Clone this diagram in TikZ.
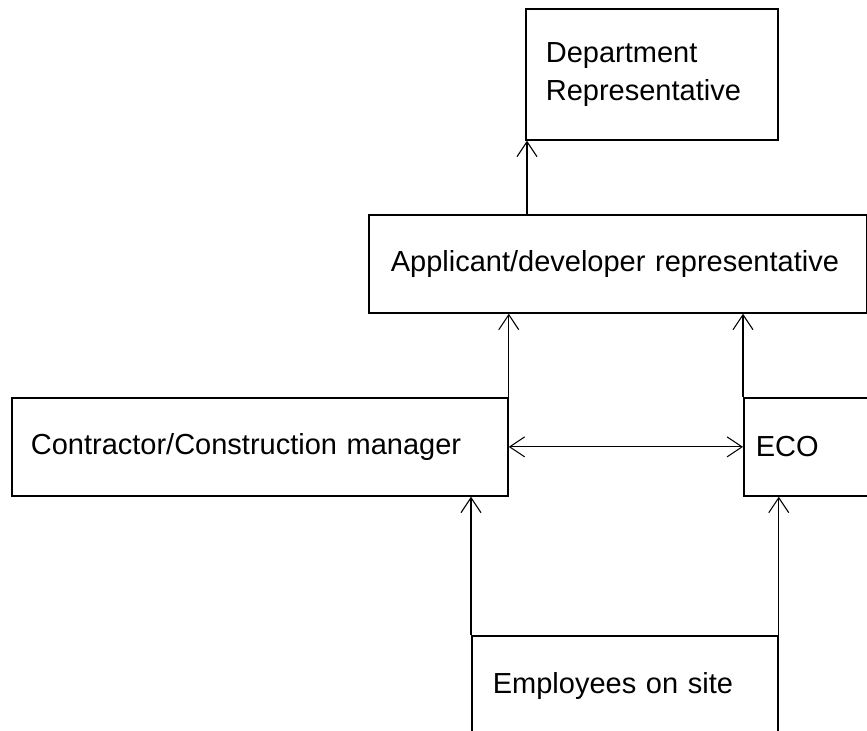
\documentclass[tikz,border=0pt]{standalone}
\usepackage{fontspec}
\setmainfont{Liberation Sans}
\usetikzlibrary{arrows.meta,positioning}

\begin{document}
\begin{tikzpicture}[
    every node/.style={font=\fontsize{16.5}{21.5}\selectfont},
    box/.style={rectangle, draw, line width=1pt, anchor=north west, align=left, minimum height=1.96cm},
    arrow/.style={-{Straight Barb[length=0.3cm, width=0.4cm]}, line width=0.6pt},
    twoway/.style={{Straight Barb[length=0.3cm, width=0.4cm]}-{Straight Barb[length=0.3cm, width=0.4cm]}, line width=0.6pt},
]

% Page frame
\useasboundingbox (0,0) rectangle (17.34,14.62);
\clip (0,0) rectangle (17.34,14.62);

% --- TOP ---
\node[box, minimum width=5.04cm, minimum height=2.62cm, inner xsep=0.4cm, text width=4.24cm] (dept) at (10.5, 14.46) {Department\\Representative};
\node[box, minimum width=9.96cm, inner xsep=0.44cm, text width=9.08cm] (appl) at (7.36, 10.34) {Applicant/developer representative};

% --- MIDDLE ---
\node[box, minimum width=9.92cm, inner xsep=0.38cm, text width=9.16cm] (contr) at (0.22, 6.68) {Contractor/Construction manager};
\node[box, minimum width=3.14cm, inner xsep=0.24cm, text width=2.66cm] (eco) at (14.86, 6.68) {ECO};

% --- BOTTOM ---
\node[box, minimum width=6.12cm, minimum height=2cm, inner xsep=0.42cm, text width=5.28cm] (empl) at (9.42, 1.92) {Employees on site};

% Reporting arrows
\draw[arrow] ([xshift=0.04cm]dept.south west |- appl.north) -- ([xshift=0.04cm]dept.south west);
\draw[arrow] (contr.north east) -- (contr.north east |- appl.south);
\draw[arrow] (eco.north west) -- (eco.north west |- appl.south);
\draw[twoway] (contr.east) -- (eco.west);
\draw[arrow] (empl.north west) -- (empl.north west |- contr.south);
\draw[arrow] (empl.north east) -- (empl.north east |- eco.south);

\end{tikzpicture}
\end{document}
